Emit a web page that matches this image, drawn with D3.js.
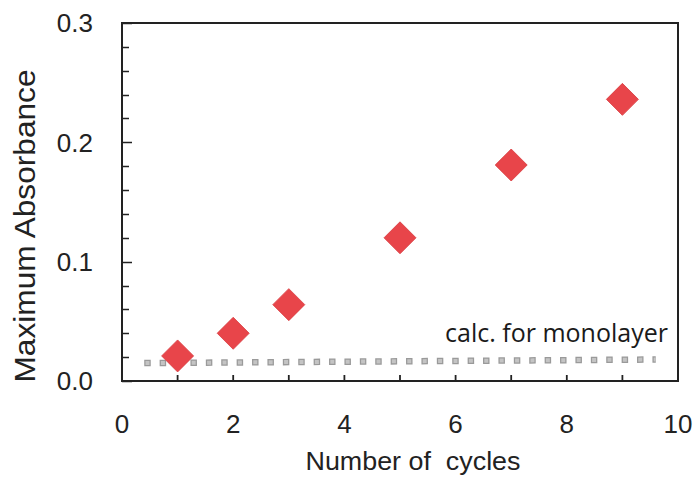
<!DOCTYPE html>
<html>
<head>
<meta charset="utf-8">
<script src="https://cdn.jsdelivr.net/npm/d3@7"></script>
<style>
  body { margin: 0; background: #fff; }
  svg { display: block; }
  text { white-space: pre; }
</style>
</head>
<body>
<svg></svg>
<script>
// data
var cycles = [1, 2, 3, 5, 7, 9];
var absorbance = [0.021, 0.040, 0.064, 0.120, 0.181, 0.236];
// calculated monolayer line (ends)
var monoX = [0.4, 9.6];
var monoY = [0.015, 0.018];
var xTicks = [0, 2, 4, 6, 8, 10];
var yTicks = [0.0, 0.1, 0.2, 0.3];

var W = 696, H = 477;
var margin = {top: 23, right: 18, bottom: 96, left: 122},
    width = W - margin.left - margin.right,
    height = H - margin.top - margin.bottom;

var svg = d3.select("svg")
    .attr("width", W)
    .attr("height", H);

var g = svg.append("g")
    .attr("transform", "translate(" + margin.left + "," + margin.top + ")");

var x = d3.scaleLinear().domain([0, 10]).range([0, width]);
var y = d3.scaleLinear().domain([0, 0.3]).range([height, 0]);

var font = "Liberation Sans, Arial, sans-serif";

// minor ticks on y (every 0.02), inside
var yMinor = d3.range(0, 0.3001, 0.02);
g.append("g")
  .selectAll("line")
  .data(yMinor)
  .enter().append("line")
    .attr("x1", 0)
    .attr("x2", function(d) { return Math.abs(d * 10 - Math.round(d * 10)) < 1e-6 ? 10 : 7; })
    .attr("y1", function(d) { return Math.round(y(d)) + 0.5; })
    .attr("y2", function(d) { return Math.round(y(d)) + 0.5; })
    .attr("stroke", "#222")
    .attr("stroke-width", 1.5);

// x ticks every 1, inside
g.append("g")
  .selectAll("line")
  .data(d3.range(1, 10))
  .enter().append("line")
    .attr("x1", function(d) { return x(d); })
    .attr("x2", function(d) { return x(d); })
    .attr("y1", height)
    .attr("y2", height - 6)
    .attr("stroke", "#222")
    .attr("stroke-width", 1.8);

// frame
g.append("rect")
  .attr("x", 0).attr("y", 0)
  .attr("width", width).attr("height", height)
  .attr("fill", "none")
  .attr("stroke", "#222")
  .attr("stroke-width", 2);

// tick labels
g.append("g")
  .selectAll("text")
  .data(yTicks)
  .enter().append("text")
    .attr("x", -29)
    .attr("y", function(d) { return y(d); })
    .attr("dy", "0.36em")
    .attr("text-anchor", "end")
    .attr("font-family", font)
    .attr("font-size", 26)
    .attr("fill", "#222")
    .text(function(d) { return d3.format(".1f")(d); });

g.append("g")
  .selectAll("text")
  .data(xTicks)
  .enter().append("text")
    .attr("x", function(d) { return x(d); })
    .attr("y", height + 52)
    .attr("text-anchor", "middle")
    .attr("font-family", font)
    .attr("font-size", 26)
    .attr("fill", "#222")
    .text(function(d) { return d; });

// axis titles
svg.append("text")
  .attr("x", 413)
  .attr("y", 470)
  .attr("text-anchor", "middle")
  .attr("font-family", font)
  .attr("font-size", 25)
  .attr("fill", "#222")
  .attr("textLength", 215)
  .attr("lengthAdjust", "spacingAndGlyphs")
  .text("Number of  cycles");

svg.append("text")
  .attr("transform", "translate(35,226) rotate(-90)")
  .attr("text-anchor", "middle")
  .attr("font-family", font)
  .attr("font-size", 30)
  .attr("fill", "#222")
  .attr("textLength", 313)
  .attr("lengthAdjust", "spacingAndGlyphs")
  .text("Maximum Absorbance");

// monolayer line: dark outline of each square, then lighter fill
var monoData = monoX.map(function(d, i) { return [d, monoY[i]]; });
var monoLine = d3.line()
    .x(function(d) { return x(d[0]); })
    .y(function(d) { return y(d[1]); });
g.append("path")
  .datum(monoData)
  .attr("d", monoLine)
  .attr("fill", "none")
  .attr("stroke", "#9a9a9a")
  .attr("stroke-width", 6.5)
  .attr("stroke-dasharray", "6.5,8.9");
g.append("path")
  .datum(monoData)
  .attr("d", monoLine)
  .attr("fill", "none")
  .attr("stroke", "#c4c4c4")
  .attr("stroke-width", 4)
  .attr("stroke-dasharray", "4,11.4")
  .attr("stroke-dashoffset", -1.25);

g.append("text")
  .attr("x", x(10) - 10)
  .attr("y", 342 - margin.top)
  .attr("text-anchor", "end")
  .attr("font-family", "Open Sans, sans-serif")
  .attr("font-size", 25)
  .attr("fill", "#1a1a1a")
  .attr("textLength", 223)
  .attr("lengthAdjust", "spacingAndGlyphs")
  .text("calc. for monolayer");

// diamonds
g.append("g")
  .selectAll("path")
  .data(cycles)
  .enter().append("path")
    .attr("transform", function(d, i) { return "translate(" + x(d) + "," + y(absorbance[i]) + ")"; })
    .attr("d", "M0,-16L16,0L0,16L-16,0Z")
    .attr("fill", "#e8454a")
    .attr("stroke", "#d83a3e")
    .attr("stroke-width", 0.8);
</script>
</body>
</html>
